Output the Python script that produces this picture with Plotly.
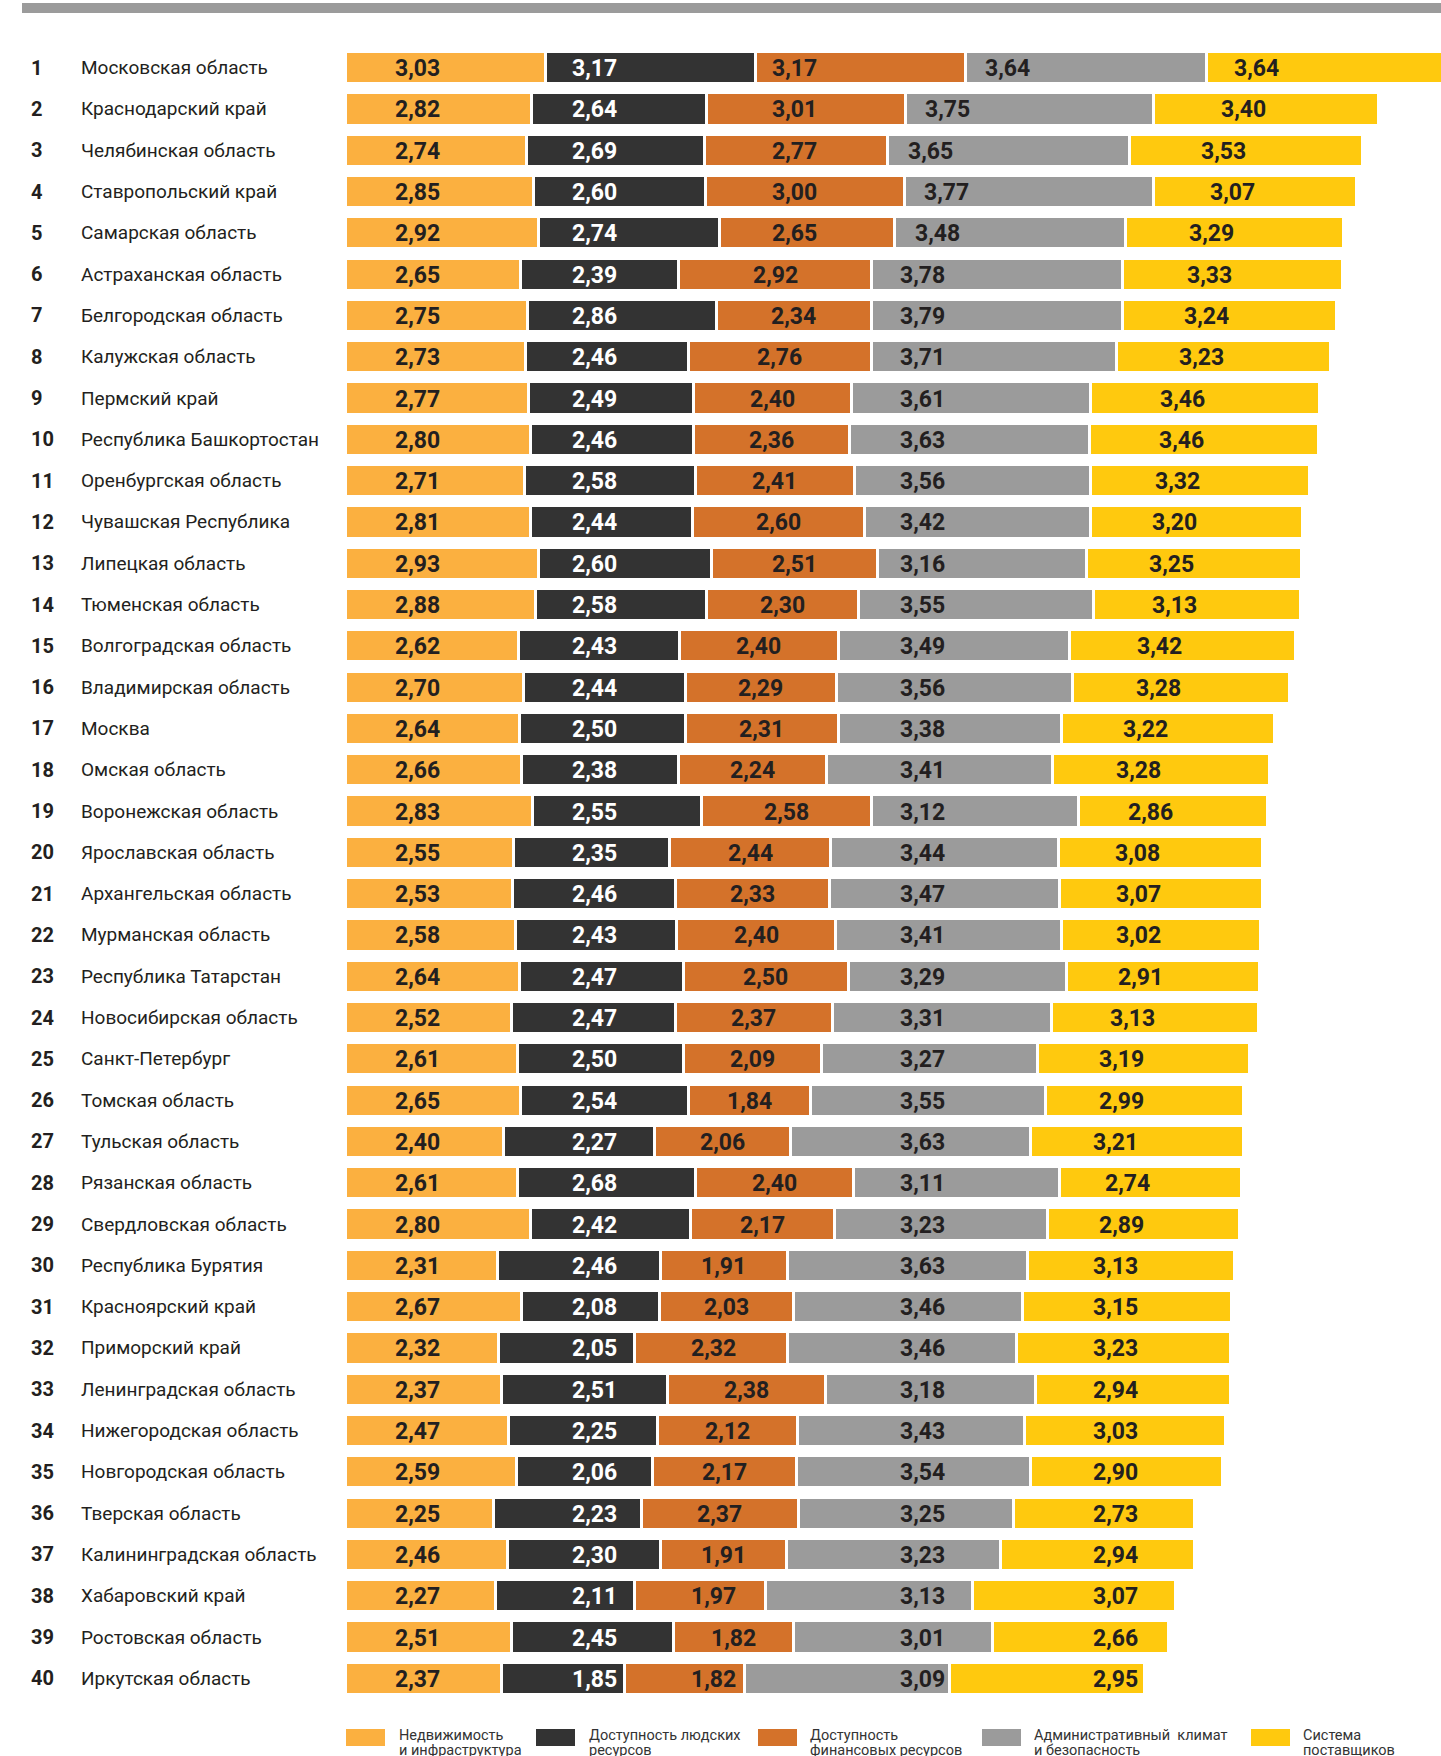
import plotly.graph_objects as go

regions = [
    "Московская область", "Краснодарский край", "Челябинская область", "Ставропольский край",
    "Самарская область", "Астраханская область", "Белгородская область", "Калужская область",
    "Пермский край", "Республика Башкортостан", "Оренбургская область", "Чувашская Республика",
    "Липецкая область", "Тюменская область", "Волгоградская область", "Владимирская область",
    "Москва", "Омская область", "Воронежская область", "Ярославская область",
    "Архангельская область", "Мурманская область", "Республика Татарстан", "Новосибирская область",
    "Санкт-Петербург", "Томская область", "Тульская область", "Рязанская область",
    "Свердловская область", "Республика Бурятия", "Красноярский край", "Приморский край",
    "Ленинградская область", "Нижегородская область", "Новгородская область", "Тверская область",
    "Калининградская область", "Хабаровский край", "Ростовская область", "Иркутская область",
]
ranks = [1, 2, 3, 4, 5, 6, 7, 8, 9, 10, 11, 12, 13, 14, 15, 16, 17, 18, 19, 20,
         21, 22, 23, 24, 25, 26, 27, 28, 29, 30, 31, 32, 33, 34, 35, 36, 37, 38, 39, 40]

realty = [3.03, 2.82, 2.74, 2.85, 2.92, 2.65, 2.75, 2.73, 2.77, 2.80,
          2.71, 2.81, 2.93, 2.88, 2.62, 2.70, 2.64, 2.66, 2.83, 2.55,
          2.53, 2.58, 2.64, 2.52, 2.61, 2.65, 2.40, 2.61, 2.80, 2.31,
          2.67, 2.32, 2.37, 2.47, 2.59, 2.25, 2.46, 2.27, 2.51, 2.37]
labor = [3.17, 2.64, 2.69, 2.60, 2.74, 2.39, 2.86, 2.46, 2.49, 2.46,
         2.58, 2.44, 2.60, 2.58, 2.43, 2.44, 2.50, 2.38, 2.55, 2.35,
         2.46, 2.43, 2.47, 2.47, 2.50, 2.54, 2.27, 2.68, 2.42, 2.46,
         2.08, 2.05, 2.51, 2.25, 2.06, 2.23, 2.30, 2.11, 2.45, 1.85]
finance = [3.17, 3.01, 2.77, 3.00, 2.65, 2.92, 2.34, 2.76, 2.40, 2.36,
           2.41, 2.60, 2.51, 2.30, 2.40, 2.29, 2.31, 2.24, 2.58, 2.44,
           2.33, 2.40, 2.50, 2.37, 2.09, 1.84, 2.06, 2.40, 2.17, 1.91,
           2.03, 2.32, 2.38, 2.12, 2.17, 2.37, 1.91, 1.97, 1.82, 1.82]
admin = [3.64, 3.75, 3.65, 3.77, 3.48, 3.78, 3.79, 3.71, 3.61, 3.63,
         3.56, 3.42, 3.16, 3.55, 3.49, 3.56, 3.38, 3.41, 3.12, 3.44,
         3.47, 3.41, 3.29, 3.31, 3.27, 3.55, 3.63, 3.11, 3.23, 3.63,
         3.46, 3.46, 3.18, 3.43, 3.54, 3.25, 3.23, 3.13, 3.01, 3.09]
suppliers = [3.64, 3.40, 3.53, 3.07, 3.29, 3.33, 3.24, 3.23, 3.46, 3.46,
             3.32, 3.20, 3.25, 3.13, 3.42, 3.28, 3.22, 3.28, 2.86, 3.08,
             3.07, 3.02, 2.91, 3.13, 3.19, 2.99, 3.21, 2.74, 2.89, 3.13,
             3.15, 3.23, 2.94, 3.03, 2.90, 2.73, 2.94, 3.07, 2.66, 2.95]

series_names = [
    "Недвижимость и инфраструктура",
    "Доступность людских ресурсов",
    "Доступность финансовых ресурсов",
    "Административный климат и безопасность",
    "Система поставщиков",
]
legend_lines = [
    ("Недвижимость", "и инфраструктура"),
    ("Доступность людских", "ресурсов"),
    ("Доступность", "финансовых ресурсов"),
    ("Административный  климат", "и безопасность"),
    ("Система", "поставщиков"),
]
colors = ["#FBB040", "#333333", "#D4722A", "#9B9B9B", "#FFC90E"]
label_colors = ["#231F20", "#FFFFFF", "#231F20", "#231F20", "#231F20"]

# ---- geometry (page pixels; body margin removed via post_script) ----
W, H = 1441, 1756
L, R, T, B = 345, 0, 47, 57
plotW = W - L - R
plotH = H - T - B
XMAX = 16.56

FONT = "Roboto, 'Noto Sans', sans-serif"
TXT = "#231F20"


def xp(px):
    return (px - L) / plotW


def yp(py):
    return (H - B - py) / plotH


def clamp(v, lo, hi):
    return max(lo, min(hi, v))


all_series = [realty, labor, finance, admin, suppliers]

fig = go.Figure()

for vals, name, col in zip(all_series, series_names, colors):
    fig.add_trace(go.Bar(
        y=regions, x=vals, orientation="h", name=name,
        marker=dict(color=col, line=dict(color="white", width=3)),
        showlegend=False, hoverinfo="x+y+name",
    ))

annotations = []

# value labels, positions computed from the stacked data
n = len(regions)
starts = [[0.0] * n for _ in all_series]
for i in range(n):
    acc = 0.0
    for k, vals in enumerate(all_series):
        starts[k][i] = acc
        acc += vals[i]

for k, vals in enumerate(all_series):
    for i in range(n):
        s = starts[k][i]
        e = s + vals[i]
        c = (s + e) / 2
        if k == 0:
            x = 1.10
        elif k == 1:
            x = 3.77
        elif k == 2:
            x = clamp(c, 5.57, 6.79)
            x = clamp(x, s + 0.4, e - 0.4)
        elif k == 3:
            x = max(8.73, s + 0.64)
            x = min(x, e - 0.4)
        else:
            x = clamp(c - 0.34, 11.64, 13.77)
            x = min(x, e - 0.4)
        annotations.append(dict(
            xref="x", yref="y", x=x, y=regions[i],
            text=f"{vals[i]:.2f}".replace(".", ","),
            xanchor="center", yanchor="middle", yshift=-1, showarrow=False,
            font=dict(family=FONT, size=23, color=label_colors[k], weight="bold"),
        ))

for r, name in zip(ranks, regions):
    annotations.append(dict(
        xref="paper", yref="y", x=xp(29), y=name, text=str(r),
        xanchor="left", yanchor="middle", showarrow=False,
        font=dict(family=FONT, size=20, color=TXT, weight="bold"),
    ))
    annotations.append(dict(
        xref="paper", yref="y", x=xp(79), y=name, text=name,
        xanchor="left", yanchor="middle", showarrow=False,
        font=dict(family=FONT, size=19, color=TXT),
    ))

shapes = [dict(
    type="rect", xref="paper", yref="paper",
    x0=xp(22), x1=xp(1441), y0=yp(13), y1=yp(3),
    fillcolor="#9B9B9B", line=dict(width=0), layer="above",
)]

swatch_x = [346, 536, 758, 982, 1251]
text_x = [397, 587, 808, 1032, 1301]
for sx, tx, col, (l1, l2) in zip(swatch_x, text_x, colors, legend_lines):
    shapes.append(dict(
        type="rect", xref="paper", yref="paper",
        x0=xp(sx), x1=xp(sx + 39), y0=yp(1746), y1=yp(1729),
        fillcolor=col, line=dict(width=0),
    ))
    for txt, yy in ((l1, 1735), (l2, 1750)):
        annotations.append(dict(
            xref="paper", yref="paper", x=xp(tx), y=yp(yy), text=txt,
            xanchor="left", yanchor="middle", showarrow=False,
            font=dict(family=FONT, size=14.5, color="#333333"),
        ))

fig.update_layout(
    width=W, height=H,
    margin=dict(l=L, r=R, t=T, b=B, pad=0),
    barmode="stack", bargap=0.22,
    paper_bgcolor="white", plot_bgcolor="white",
    xaxis=dict(range=[0, XMAX], visible=False, fixedrange=True),
    yaxis=dict(range=[n - 0.5, -0.5], autorange=False, showticklabels=False,
               showgrid=False, zeroline=False, showline=False, ticks="",
               fixedrange=True),
    annotations=annotations, shapes=shapes,
    font=dict(family=FONT),
)

fig.write_html(
    "out.html",
    config={"displayModeBar": False},
    post_script="document.body.style.margin='0';document.body.style.overflow='hidden';",
)
